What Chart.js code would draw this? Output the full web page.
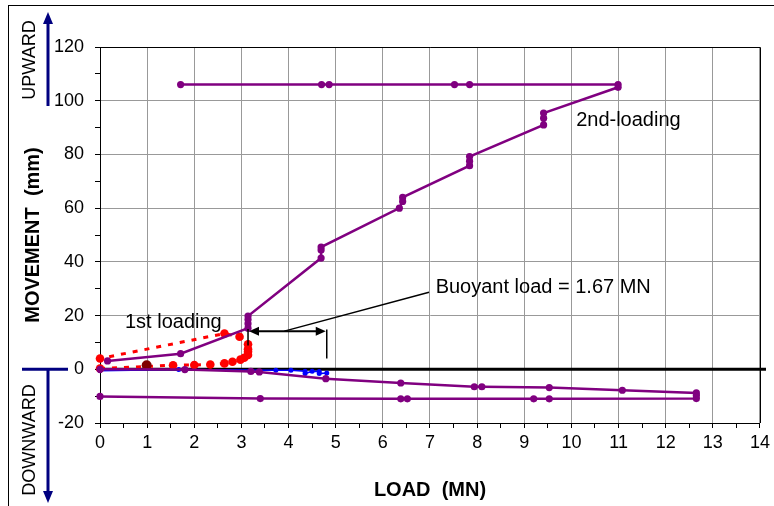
<!DOCTYPE html>
<html lang="en">
<head>
    <title>Load - Movement</title>
    <meta charset="UTF-8">
    <script src="https://cdn.jsdelivr.net/npm/chart.js"></script>
    <style>
        html, body { margin: 0; padding: 0; background: #fff; }
    </style>
</head>
<body>
<canvas id="chart" width="774" height="506"></canvas>
<script>
// 1st loading (red, dashed)
var firstX = [0, 1.55, 2.0, 2.34, 2.64, 2.81, 2.98, 3.06, 3.14, 3.14, 3.14, 3.14, 2.96, 2.64, 0];
var firstY = [0.3, 1.5, 1.6, 1.8, 2.2, 2.8, 3.6, 4.3, 5.3, 6.5, 7.5, 9.3, 12.1, 13.3, 4.0];
// single dark red reading
var darkX = [0.99];
var darkY = [1.5];
// 2nd loading (purple)
var secondX = [0.16, 1.71, 3.14, 3.14, 3.14, 3.14, 4.69, 4.69, 4.69, 6.35, 6.42, 6.42, 7.84, 7.84, 7.84, 9.41, 9.41, 9.41, 10.99, 10.99, 7.84, 7.52, 4.86, 4.70, 1.71];
var secondY = [3.1, 5.8, 15.3, 17, 18.5, 19.8, 41.4, 44.4, 45.5, 60, 62.5, 64, 75.8, 77.5, 79.2, 91, 93.5, 95.4, 105, 106, 106, 106, 106, 106, 106];
// downward loading (purple)
var downX = [0, 1.8, 3.2, 3.38, 4.79, 6.38, 7.94, 8.1, 9.53, 11.08, 12.65, 12.65, 12.65, 9.53, 9.2, 6.52, 6.38, 3.4, 0];
var downY = [0, -0.1, -0.8, -1.0, -3.5, -5.1, -6.5, -6.5, -6.8, -7.8, -8.8, -9.8, -10.9, -11, -11, -11, -11, -10.9, -10.1];
// blue readings
var blueX = [0, 1.67, 3.73, 4.05, 4.35, 4.35, 4.5, 4.65, 4.65, 4.81];
var blueY = [-0.5, -0.1, -0.4, -0.4, -0.7, -1.6, -0.7, -0.8, -1.6, -1.4];

// buoyant load marker (MN)
var buoyStart = 3.14;
var buoyLoad = 1.67;

function pts(xs, ys) {
    return xs.map(function (x, i) { return { x: x, y: ys[i] }; });
}

var FONT = '"Liberation Sans", Arial, sans-serif';
Chart.defaults.font.family = FONT;
Chart.defaults.color = '#000';

var navy = '#000080';

function arrowHead(ctx, x, y, dx, dy, len, half) {
    // tip at (x,y), pointing along (dx,dy)
    var px = -dy, py = dx;
    ctx.beginPath();
    ctx.moveTo(x, y);
    ctx.lineTo(x - dx * len + px * half, y - dy * len + py * half);
    ctx.lineTo(x - dx * len - px * half, y - dy * len - py * half);
    ctx.closePath();
    ctx.fill();
}

var extras = {
    id: 'extras',
    beforeDatasetsDraw: function (chart) {
        // zero line runs a little past the plot frame
        var ctx = chart.ctx, a = chart.chartArea;
        var y0 = chart.scales.y.getPixelForValue(0);
        ctx.save();
        ctx.strokeStyle = '#000';
        ctx.lineWidth = 3;
        ctx.beginPath();
        ctx.moveTo(a.left, y0); ctx.lineTo(a.right + 6, y0);
        ctx.stroke();
        ctx.restore();
    },
    afterDraw: function (chart) {
        var ctx = chart.ctx, a = chart.chartArea;
        var xs = chart.scales.x, ys = chart.scales.y;
        ctx.save();

        // plot frame top + right
        ctx.strokeStyle = '#000';
        ctx.lineWidth = 1;
        ctx.beginPath();
        ctx.moveTo(a.left, Math.round(a.top) + 0.5);
        ctx.lineTo(Math.round(a.right) + 0.5, Math.round(a.top) + 0.5);
        ctx.lineTo(Math.round(a.right) + 0.5, a.bottom);
        ctx.stroke();

        // outer frame
        ctx.strokeRect(8.5, 5.5, 900, 700);

        // upward / downward arrows
        var y0 = ys.getPixelForValue(0);
        ctx.strokeStyle = navy;
        ctx.fillStyle = navy;
        ctx.lineWidth = 3;
        ctx.beginPath();
        ctx.moveTo(48, 106); ctx.lineTo(48, 22);
        ctx.moveTo(22, y0); ctx.lineTo(68, y0);
        ctx.moveTo(48, y0); ctx.lineTo(48, 492);
        ctx.stroke();
        arrowHead(ctx, 48, 12, 0, -1, 12, 5);
        arrowHead(ctx, 48, 503, 0, 1, 12, 5);

        ctx.fillStyle = '#000';
        ctx.font = '18px ' + FONT;
        ctx.textAlign = 'center';
        ctx.textBaseline = 'middle';
        ctx.save();
        ctx.translate(30, 60); ctx.rotate(-Math.PI / 2);
        ctx.fillText('UPWARD', 0, 0);
        ctx.restore();
        ctx.save();
        ctx.translate(30, 440); ctx.rotate(-Math.PI / 2);
        ctx.fillText('DOWNWARD', 0, 0);
        ctx.restore();

        // buoyant load annotation
        var xa = xs.getPixelForValue(buoyStart);
        var xb = xs.getPixelForValue(buoyStart + buoyLoad);
        var ya = ys.getPixelForValue(14.2);
        ctx.strokeStyle = '#000';
        ctx.fillStyle = '#000';
        ctx.lineWidth = 1.5;
        ctx.beginPath();
        ctx.moveTo(xa, ys.getPixelForValue(15)); ctx.lineTo(xa, ys.getPixelForValue(8.9));
        ctx.moveTo(xb, ys.getPixelForValue(14.8)); ctx.lineTo(xb, ys.getPixelForValue(4));
        ctx.moveTo(xs.getPixelForValue(3.91), ya);
        ctx.lineTo(xs.getPixelForValue(6.98), ys.getPixelForValue(28.7));
        ctx.stroke();
        ctx.lineWidth = 2;
        ctx.beginPath();
        ctx.moveTo(xa + 8, ya); ctx.lineTo(xb - 8, ya);
        ctx.stroke();
        arrowHead(ctx, xa + 1, ya, -1, 0, 10, 4.5);
        arrowHead(ctx, xb - 1, ya, 1, 0, 10, 4.5);

        ctx.font = '20px ' + FONT;
        ctx.textAlign = 'left';
        ctx.fillText('Buoyant load = 1.67 MN', xs.getPixelForValue(7.12), ys.getPixelForValue(30.5));
        ctx.fillText('1st loading', xs.getPixelForValue(0.53), ys.getPixelForValue(17.5));
        ctx.fillText('2nd-loading', xs.getPixelForValue(10.1), ys.getPixelForValue(92.7));
        ctx.restore();
    }
};

var purple = '#800080';

var chart = new Chart(document.getElementById('chart'), {
    type: 'scatter',
    data: {
        datasets: [
            {
                data: pts(secondX, secondY),
                showLine: true, borderColor: purple, backgroundColor: purple,
                borderWidth: 2.5, pointRadius: 3.6, pointBorderWidth: 0, clip: false
            },
            {
                data: pts(downX, downY),
                showLine: true, borderColor: purple, backgroundColor: purple,
                borderWidth: 2.5, pointRadius: 3.6, pointBorderWidth: 0, clip: false
            },
            {
                data: pts(darkX, darkY),
                showLine: false, backgroundColor: '#800000', borderColor: '#800000',
                pointRadius: 5, pointBorderWidth: 0, clip: false
            },
            {
                data: pts(firstX, firstY),
                showLine: true, borderColor: '#ff0000', backgroundColor: '#ff0000',
                borderWidth: 3, borderDash: [5, 7], pointRadius: 4.3, pointBorderWidth: 0, clip: false
            },
            {
                data: pts(blueX, blueY),
                showLine: true, borderColor: '#0000ff', backgroundColor: '#0000ff',
                borderWidth: 1.5, pointRadius: 2.5, pointBorderWidth: 0, clip: false
            }
        ]
    },
    options: {
        responsive: false,
        animation: false,
        devicePixelRatio: 1,
        layout: { padding: { left: 0, top: 47, right: 12, bottom: 0 } },
        plugins: {
            legend: { display: false },
            tooltip: { enabled: false }
        },
        scales: {
            x: {
                type: 'linear', min: 0, max: 14,
                ticks: {
                    stepSize: 0.5, autoSkip: false, maxRotation: 0, padding: 4,
                    color: '#000', font: { size: 18 },
                    callback: function (v) { return Number.isInteger(v) ? v : ''; }
                },
                grid: {
                    color: function (c) { return Number.isInteger(c.tick.value) ? '#999' : 'rgba(0,0,0,0)'; },
                    tickColor: '#000', tickLength: 5, tickWidth: 1
                },
                border: { color: '#000', width: 1 },
                title: {
                    display: true, text: 'LOAD  (MN)', color: '#000',
                    font: { size: 20, weight: 'bold' }, padding: { top: 0, bottom: 4 }
                },
                afterFit: function (s) { s.height = 83; }
            },
            y: {
                type: 'linear', min: -20, max: 120,
                ticks: {
                    stepSize: 10, autoSkip: false, padding: 11,
                    color: '#000', font: { size: 18 },
                    callback: function (v) { return v % 20 === 0 ? v : ''; }
                },
                grid: {
                    color: function (c) {
                        if (c.tick.value === 0) return 'rgba(0,0,0,0)';
                        return c.tick.value % 20 === 0 ? '#999' : 'rgba(0,0,0,0)';
                    },
                    tickColor: '#000', tickLength: 5, tickWidth: 1
                },
                border: { color: '#000', width: 1 },
                title: {
                    display: true, text: 'MOVEMENT  (mm)', color: '#000',
                    font: { size: 20, weight: 'bold' }, padding: { top: 21, bottom: 0 }
                },
                afterFit: function (s) { s.width = 100; }
            }
        }
    },
    plugins: [extras]
});
</script>
</body>
</html>
